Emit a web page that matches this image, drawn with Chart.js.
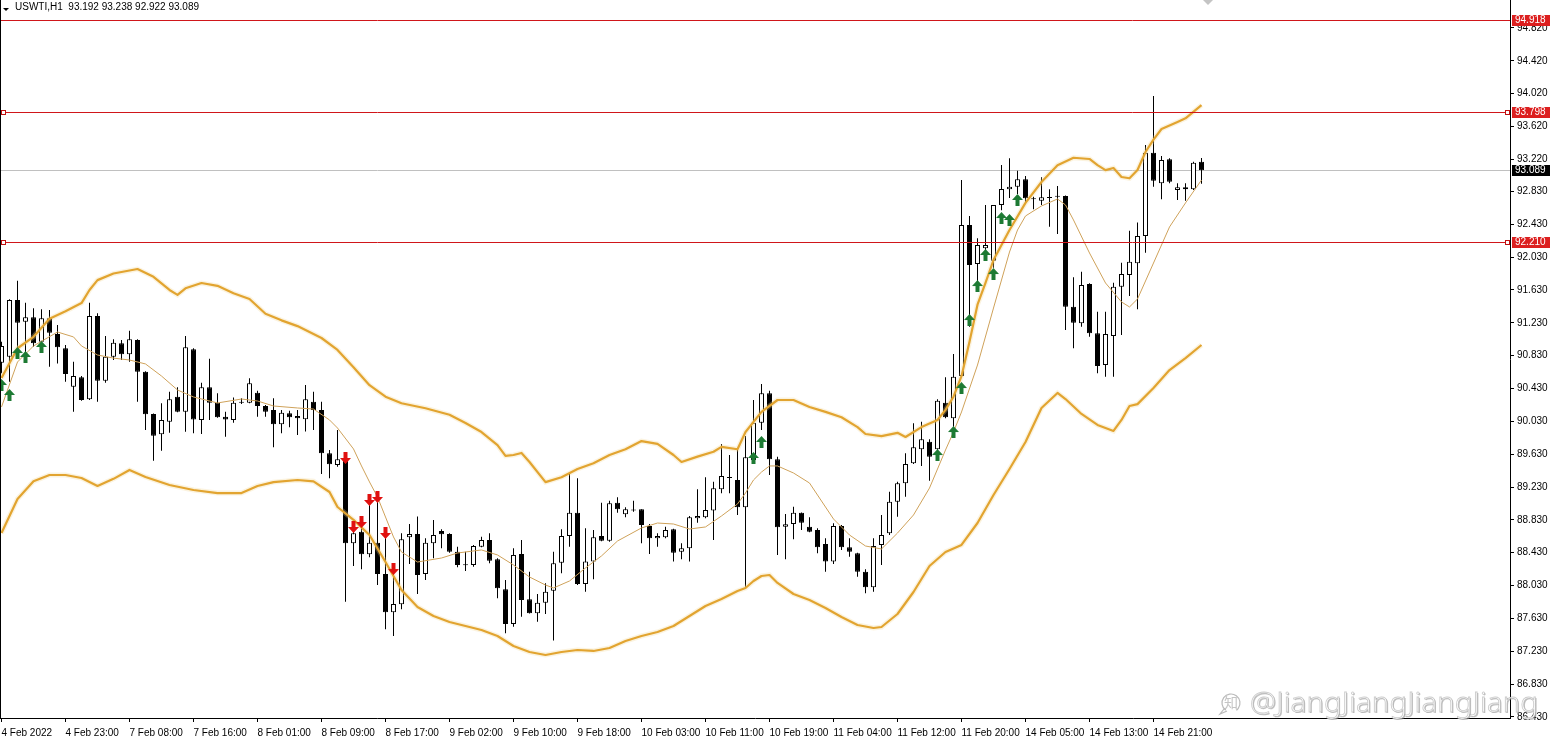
<!DOCTYPE html>
<html><head><meta charset="utf-8">
<script src="https://cdn.jsdelivr.net/npm/chart.js@4.4.0/dist/chart.umd.min.js"></script>
<style>html,body{margin:0;padding:0;background:#fff;overflow:hidden}#wrap{width:1555px;height:745px;position:relative;background:#fff}</style>
</head><body><div id="wrap"><canvas id="c" width="1555" height="745"></canvas></div>
<script>
// ---------- DATA ----------
const symbolTitle = 'USWTI,H1';
const lastOHLC = [93.192, 93.238, 92.922, 93.089];

const opens = [90.745,90.818,91.508,91.244,91.297,91.000,91.285,91.094,90.919,90.452,
90.566,90.298,91.313,90.525,90.818,90.980,90.846,91.021,90.635,90.119,
89.872,90.026,90.330,90.148,90.907,90.046,90.444,90.257,90.087,90.046,
90.257,90.257,90.379,90.217,90.168,89.994,90.128,90.095,90.055,90.270,
90.168,89.641,89.499,89.560,88.545,88.687,88.411,88.553,88.171,87.704,
87.802,88.618,88.658,88.171,88.545,88.695,88.658,88.443,88.277,88.281,
88.504,88.585,88.350,87.985,87.563,88.415,87.863,87.693,87.822,87.968,
88.309,88.634,88.918,88.050,88.322,88.634,88.577,89.040,88.898,88.943,
88.959,88.756,88.606,88.618,88.715,88.443,88.484,88.849,88.861,88.943,
89.202,89.340,89.316,88.983,89.559,90.014,90.371,89.568,88.748,88.780,
88.918,88.748,88.707,88.537,88.322,88.756,88.496,88.423,88.200,88.009,
88.524,88.666,89.052,89.275,89.519,89.689,89.783,89.689,90.258,90.067,
90.582,92.421,91.946,92.137,91.987,92.665,92.855,92.888,92.977,92.746,
92.717,92.758,92.774,92.774,91.427,91.224,91.703,91.102,90.716,91.069,
91.670,91.812,91.954,92.287,93.302,92.928,93.221,92.847,92.880,92.855,
93.192];
const highs = [91.000,91.516,91.743,91.475,91.406,91.394,91.386,91.203,90.960,90.757,
90.582,91.475,91.345,91.069,91.029,91.021,91.134,91.029,90.640,90.127,
90.249,90.391,90.444,91.069,90.919,90.501,90.793,90.371,90.148,90.322,
90.310,90.554,90.404,90.229,90.311,90.168,90.160,90.168,90.473,90.392,
90.270,89.681,89.925,89.608,88.797,88.837,89.032,89.093,88.646,88.220,
88.667,88.780,88.870,88.606,88.829,88.715,88.667,88.504,88.443,88.525,
88.626,88.667,88.362,88.098,88.484,88.585,88.200,87.928,88.058,88.443,
88.715,89.397,89.336,88.727,88.707,89.040,89.064,89.105,88.983,89.064,
88.960,88.780,88.667,88.748,88.723,88.545,88.878,89.202,89.349,89.296,
89.754,89.620,89.681,89.852,90.290,90.485,90.404,89.600,88.902,88.991,
88.920,88.861,88.727,88.606,88.788,88.768,88.606,88.431,88.228,88.606,
88.890,89.174,89.296,89.641,90.006,90.026,89.811,90.298,90.566,90.850,
92.969,92.531,92.259,92.665,92.665,93.152,93.233,93.083,93.018,92.766,
93.002,92.855,92.896,92.780,91.784,91.853,91.711,91.366,91.366,91.719,
91.962,92.352,92.450,93.395,93.992,93.261,93.233,92.928,92.928,93.192,
93.238];
const lows = [90.615,90.513,90.939,90.838,90.939,90.919,90.696,90.736,90.513,90.148,
90.280,90.290,90.270,90.501,90.777,90.777,90.757,90.270,89.924,89.551,
89.673,89.892,90.140,89.904,89.884,89.876,90.046,90.075,89.843,90.014,
90.241,90.249,90.087,90.087,89.714,89.884,89.957,89.864,89.905,89.925,
89.389,89.336,89.478,87.834,88.269,88.228,88.374,88.037,87.498,87.416,
87.741,88.293,87.928,88.098,88.362,88.484,88.431,88.253,88.208,88.261,
88.496,88.301,87.875,87.449,87.530,87.652,87.690,87.591,87.685,87.360,
88.180,88.504,88.037,87.956,88.107,88.570,88.565,88.918,88.861,88.930,
88.545,88.415,88.504,88.606,88.322,88.350,88.322,88.796,88.849,88.585,
89.154,89.154,88.890,88.017,89.519,89.925,89.377,88.403,88.350,88.593,
88.707,88.680,88.423,88.200,88.293,88.464,88.382,88.139,87.936,87.956,
88.281,88.646,88.869,89.113,89.511,89.486,89.308,89.600,90.067,89.965,
90.574,91.183,91.670,92.035,91.900,92.600,92.750,92.800,92.693,92.612,
92.665,92.401,92.312,91.143,90.919,91.183,91.061,90.615,90.574,90.574,
91.082,91.557,91.394,92.084,92.888,92.734,92.928,92.726,92.717,92.847,
92.922];
const closes = [90.948,91.508,91.232,91.297,90.980,91.285,91.110,90.931,90.607,90.582,
90.290,91.313,90.525,90.818,90.988,90.846,91.029,90.635,90.115,89.855,
90.046,90.298,90.148,90.931,90.054,90.444,90.257,90.079,90.054,90.257,
90.270,90.493,90.217,90.148,89.994,90.136,90.079,90.067,90.298,90.168,
89.641,89.507,89.568,88.545,88.667,88.411,88.553,88.171,87.704,87.806,
88.594,88.658,88.159,88.553,88.646,88.654,88.443,88.281,88.289,88.512,
88.585,88.334,87.997,87.563,88.403,87.855,87.693,87.822,87.956,88.301,
88.634,88.918,88.050,88.322,88.618,88.577,89.032,88.959,88.959,88.955,
88.768,88.606,88.634,88.707,88.431,88.484,88.861,88.878,88.951,89.215,
89.365,89.349,88.983,89.592,90.014,90.371,89.568,88.740,88.776,88.918,
88.796,88.687,88.496,88.322,88.756,88.496,88.443,88.200,88.009,88.512,
88.646,89.052,89.275,89.511,89.714,89.811,89.600,90.282,90.079,90.574,
92.421,91.934,92.178,92.178,92.665,92.859,92.888,92.977,92.746,92.734,
92.758,92.750,92.766,91.427,91.232,91.690,91.102,90.704,91.094,91.670,
91.824,91.975,92.287,93.302,92.961,93.213,92.949,92.880,92.855,93.180,
93.089];

const timeLabels = ['4 Feb 2022','4 Feb 23:00','7 Feb 08:00','7 Feb 16:00','8 Feb 01:00','8 Feb 09:00','8 Feb 17:00','9 Feb 02:00','9 Feb 10:00','9 Feb 18:00','10 Feb 03:00','10 Feb 11:00','10 Feb 19:00','11 Feb 04:00','11 Feb 12:00','11 Feb 20:00','14 Feb 05:00','14 Feb 13:00','14 Feb 21:00'];
const labelStep = 8;
const yTicks = [94.820,94.420,94.020,93.620,93.220,92.830,92.430,92.030,91.630,91.230,90.830,90.430,90.030,89.630,89.230,88.830,88.430,88.030,87.630,87.230,86.830,86.430];

const upperIdx = [0,2,4,6,8,10,11,12,14,17,19,21,22,23,25,27,29,31,33,35,37,40,42,44,46,48,50,53,56,58,60,62,63,64,65,66,68,70,72,74,76,78,80,82,84,85,87,89,90,92,93,95,97,99,101,103,105,107,108,110,112,113,115,117,118,119,120,121,122,123,124,126,128,130,132,134,136,137,138,139,140,141,142,143,144,145,147,148,150];
const upperVal = [90.558,90.92,91.06,91.28,91.37,91.47,91.63,91.75,91.83,91.885,91.79,91.63,91.57,91.65,91.715,91.68,91.59,91.52,91.34,91.26,91.19,91.045,90.90,90.69,90.47,90.33,90.25,90.19,90.11,90.01,89.90,89.74,89.61,89.62,89.645,89.535,89.29,89.35,89.45,89.52,89.62,89.69,89.79,89.755,89.62,89.535,89.60,89.66,89.72,89.69,89.90,90.145,90.29,90.29,90.205,90.145,90.08,89.96,89.876,89.85,89.89,89.84,89.96,90.047,90.17,90.33,90.58,91.00,91.45,91.715,91.995,92.36,92.69,92.945,93.15,93.24,93.225,93.15,93.09,93.115,93.006,92.99,93.09,93.31,93.46,93.59,93.675,93.72,93.88];
const lowerIdx = [0,2,4,6,8,10,12,14,16,18,21,24,27,30,32,34,37,39,41,42,44,46,48,50,52,54,56,58,60,62,64,66,68,70,72,74,76,78,80,82,84,86,88,90,92,93,94,95,96,97,99,101,103,105,107,109,110,112,114,116,118,120,122,124,126,128,130,132,133,135,137,139,140,141,142,144,146,148,150];
const lowerVal = [88.67,89.085,89.30,89.377,89.377,89.34,89.243,89.33,89.438,89.353,89.255,89.194,89.157,89.157,89.243,89.29,89.316,89.30,89.17,88.987,88.83,88.646,88.317,87.976,87.77,87.66,87.587,87.538,87.489,87.416,87.295,87.221,87.185,87.221,87.246,87.234,87.27,87.355,87.416,87.465,87.538,87.66,87.782,87.867,87.964,88.001,88.086,88.147,88.159,88.062,87.928,87.855,87.757,87.647,87.55,87.514,87.526,87.684,87.952,88.269,88.439,88.525,88.792,89.133,89.45,89.779,90.193,90.376,90.302,90.12,89.986,89.913,90.047,90.217,90.24,90.436,90.655,90.80,90.96];
const midIdx = [0,2,4,7,9,10,12,14,16,18,20,22,24,27,30,32,34,37,39,41,42,44,45,46,47,48,49,50,52,55,57,60,62,64,66,68,69,71,73,75,77,80,82,84,86,88,90,92,93,94,95,96,97,99,101,102,104,106,108,110,112,114,116,118,119,120,122,124,126,127,128,130,132,133,134,136,138,140,141,142,144,146,148,150];
const midVal = [90.205,90.753,90.948,91.118,91.058,90.948,90.838,90.80,90.777,90.729,90.582,90.412,90.327,90.254,90.302,90.278,90.217,90.193,90.18,90.047,89.949,89.694,89.487,89.292,89.109,88.865,88.622,88.439,88.317,88.366,88.427,88.464,88.403,88.281,88.135,88.037,88.001,88.086,88.245,88.391,88.573,88.732,88.792,88.78,88.719,88.744,88.878,89.024,89.157,89.316,89.413,89.487,89.487,89.401,89.279,89.133,88.841,88.646,88.512,88.476,88.67,88.89,89.218,89.681,89.90,90.144,90.716,91.41,92.092,92.36,92.531,92.653,92.738,92.665,92.482,92.08,91.715,91.484,91.423,91.52,91.958,92.397,92.69,92.969];

const upArrowIdx = [0,1,2,3,5,94,95,117,119,120,121,122,123,124,125,126,127];
const upArrowVal = [90.473,90.351,90.862,90.814,90.936,89.584,89.779,89.620,89.900,90.436,91.264,91.678,92.056,91.824,92.506,92.482,92.726];
const downArrowIdx = [43,44,45,46,47,48,49];
const downArrowVal = [89.584,88.744,88.805,89.073,89.109,88.671,88.232];

const levelPrices = [94.918, 93.798, 92.210];
const levelMarkers = [false, true, true];
const currentPrice = 93.089;

// ---------- HELPERS ----------
const pts = (idx, val) => idx.map((x, k) => ({x: x, y: val[k]}));
function makeArrow(color, up) {
  const c = document.createElement('canvas'); c.width = 11; c.height = 12;
  const g = c.getContext('2d'); g.fillStyle = color; g.beginPath();
  const P = up ? [[5.5,0],[11,6],[7.5,6],[7.5,12],[3.5,12],[3.5,6],[0,6]]
               : [[5.5,12],[11,6],[7.5,6],[7.5,0],[3.5,0],[3.5,6],[0,6]];
  g.moveTo(P[0][0], P[0][1]); for (let i = 1; i < P.length; i++) g.lineTo(P[i][0], P[i][1]);
  g.closePath(); g.fill(); return c;
}
const FONT = 'Liberation Sans';

const overlay = {
  id: 'overlay',
  beforeDatasetsDraw(chart) {
    const {ctx, chartArea: a, scales: {y}} = chart;
    ctx.save();
    const py = Math.round(y.getPixelForValue(currentPrice)) + 0.5;
    ctx.strokeStyle = '#c0c0c0'; ctx.lineWidth = 1;
    ctx.beginPath(); ctx.moveTo(a.left, py); ctx.lineTo(a.right, py); ctx.stroke();
    ctx.restore();
  },
  afterDatasetsDraw(chart) {
    const {ctx, chartArea: a, scales: {y}} = chart;
    ctx.save();
    levelPrices.forEach((p, k) => {
      const py = Math.round(y.getPixelForValue(p)) + 0.5;
      ctx.strokeStyle = '#d0161a'; ctx.lineWidth = 1;
      ctx.beginPath(); ctx.moveTo(a.left, py); ctx.lineTo(a.right, py); ctx.stroke();
      if (levelMarkers[k]) {
        ctx.fillStyle = '#fff'; ctx.strokeStyle = '#c01010';
        ctx.fillRect(1.5, py - 2, 4, 4); ctx.strokeRect(1.5, py - 2, 4, 4);
        ctx.fillRect(a.right - 4.5, py - 2, 4, 4); ctx.strokeRect(a.right - 4.5, py - 2, 4, 4);
      }
    });
    ctx.restore();
  },
  afterDraw(chart) {
    const {ctx, chartArea: a, scales: {y}} = chart;
    ctx.save();
    // left border
    ctx.strokeStyle = '#000'; ctx.lineWidth = 1;
    ctx.beginPath(); ctx.moveTo(0.5, 0); ctx.lineTo(0.5, a.bottom); ctx.stroke();
    // price boxes on axis
    ctx.font = '10px "' + FONT + '"'; ctx.textBaseline = 'middle'; ctx.textAlign = 'left';
    const box = (p, bg) => {
      const py = Math.round(y.getPixelForValue(p));
      ctx.fillStyle = bg; ctx.fillRect(a.right + 2, py - 5, 38, 11);
      ctx.fillStyle = '#fff'; ctx.fillText(p.toFixed(3), a.right + 5, py + 0.5);
    };
    levelPrices.forEach(p => box(p, '#dc1f1f'));
    box(currentPrice, '#000');
    // header
    ctx.fillStyle = '#000';
    ctx.beginPath(); ctx.moveTo(3, 8); ctx.lineTo(9, 8); ctx.lineTo(6, 11); ctx.closePath(); ctx.fill();
    ctx.font = '10px "' + FONT + '"'; ctx.textBaseline = 'alphabetic';
    ctx.fillText(symbolTitle + '  ' + lastOHLC.map(v => v.toFixed(3)).join(' '), 15, 10);
    // grey shift marker at top
    ctx.fillStyle = '#c4c4c4';
    ctx.beginPath(); ctx.moveTo(1203, 0); ctx.lineTo(1213, 0); ctx.lineTo(1208, 5); ctx.closePath(); ctx.fill();
    // watermark
    const wm = '@JiangJiangJiangJiang';
    ctx.font = '300 27px "Noto Sans"';
    const w = ctx.measureText(wm).width;
    ctx.save(); ctx.translate(1250, 712); ctx.scale(288 / w, 1);
    ctx.fillStyle = 'rgba(150,150,150,0.55)'; ctx.fillText(wm, 1, 1);
    ctx.fillStyle = '#ffffff'; ctx.fillText(wm, 0, 0);
    ctx.lineWidth = 0.8; ctx.strokeStyle = 'rgba(140,140,140,0.45)'; ctx.strokeText(wm, 0, 0);
    ctx.restore();
    ctx.strokeStyle = 'rgba(140,140,140,0.6)'; ctx.lineWidth = 1.2;
    ctx.beginPath(); ctx.arc(1231, 703, 9, Math.PI * 0.7, Math.PI * 2.3); ctx.stroke();
    ctx.beginPath(); ctx.moveTo(1224, 709); ctx.lineTo(1220, 714); ctx.lineTo(1227, 711); ctx.stroke();
    ctx.font = '14px "Noto Sans CJK SC"'; ctx.fillStyle = 'rgba(140,140,140,0.5)';
    ctx.textAlign = 'center'; ctx.fillText('知', 1231, 708);
    ctx.restore();
  }
};

const xMin = -1.5 / 8, xMax = xMin + 1510 / 8;
const yMax = 94.82 + 28 / 82.12, yMin = 94.82 - 690 / 82.12;

new Chart(document.getElementById('c'), {
  type: 'bar',
  data: {
    datasets: [
      { type: 'line', label: 'up', data: pts(upArrowIdx, upArrowVal), showLine: false,
        pointStyle: makeArrow('#1d7a33', true), pointRadius: 5, order: 0 },
      { type: 'line', label: 'down', data: pts(downArrowIdx, downArrowVal), showLine: false,
        pointStyle: makeArrow('#e0100f', false), pointRadius: 5, order: 0 },
      { type: 'line', label: 'upper', data: pts(upperIdx, upperVal), borderColor: '#e2a430', borderWidth: 2.2,
        pointRadius: 0, tension: 0, borderJoinStyle: 'round', order: 1 },
      { type: 'line', label: 'lower', data: pts(lowerIdx, lowerVal), borderColor: '#e2a430', borderWidth: 2.2,
        pointRadius: 0, tension: 0, borderJoinStyle: 'round', order: 1 },
      { type: 'line', label: 'upperGlow', data: pts(upperIdx, upperVal), borderColor: 'rgba(243,214,150,0.3)', borderWidth: 5,
        pointRadius: 0, tension: 0, order: 2 },
      { type: 'line', label: 'lowerGlow', data: pts(lowerIdx, lowerVal), borderColor: 'rgba(243,214,150,0.3)', borderWidth: 5,
        pointRadius: 0, tension: 0, order: 2 },
      { type: 'line', label: 'mid', data: pts(midIdx, midVal), borderColor: '#cfa25a', borderWidth: 1,
        pointRadius: 0, tension: 0, order: 1 },
      { type: 'bar', label: 'body', data: opens.map((o, i) => ({x: i, y: [o, closes[i]]})),
        backgroundColor: c => (closes[c.dataIndex] >= opens[c.dataIndex] ? '#ffffff' : '#000000'),
        borderColor: '#000', borderWidth: 1, borderSkipped: false, barThickness: 5, minBarLength: 1,
        grouped: false, inflateAmount: 0, order: 3 },
      { type: 'bar', label: 'wick', data: opens.map((o, i) => ({x: i, y: [lows[i], highs[i]]})),
        backgroundColor: '#000', borderWidth: 0, barThickness: 1, grouped: false, inflateAmount: 0, order: 4 }
    ]
  },
  options: {
    responsive: false, animation: false, devicePixelRatio: 1,
    layout: { padding: 0, autoPadding: false },
    plugins: { legend: { display: false }, tooltip: { enabled: false } },
    scales: {
      x: {
        type: 'linear', min: xMin, max: xMax, offset: false, bounds: 'data', position: 'bottom',
        grid: { display: true, drawOnChartArea: false, drawTicks: true, tickLength: 4, color: '#000', offset: false },
        border: { display: true, color: '#000', width: 1 },
        ticks: { autoSkip: false, maxRotation: 0, minRotation: 0, align: 'start', padding: 5, color: '#000',
          font: { family: FONT, size: 10 }, callback: (v, i) => timeLabels[i] },
        afterBuildTicks: s => { s.ticks = timeLabels.map((t, k) => ({ value: k * labelStep })); },
        afterFit: s => { s.height = 27; s.paddingLeft = 0; s.paddingRight = 0; }
      },
      y: {
        type: 'linear', position: 'right', min: yMin, max: yMax, bounds: 'data', beginAtZero: false,
        grid: { display: true, drawOnChartArea: false, drawTicks: true, tickLength: 4, color: '#000' },
        border: { display: true, color: '#000', width: 1 },
        ticks: { padding: 3, color: '#000', font: { family: FONT, size: 10 }, callback: v => v.toFixed(3) },
        afterBuildTicks: s => { s.ticks = yTicks.map(v => ({ value: v })); },
        afterFit: s => { s.width = 45; s.paddingTop = 0; s.paddingBottom = 0; }
      }
    }
  },
  plugins: [overlay]
});
</script>
</body></html>
